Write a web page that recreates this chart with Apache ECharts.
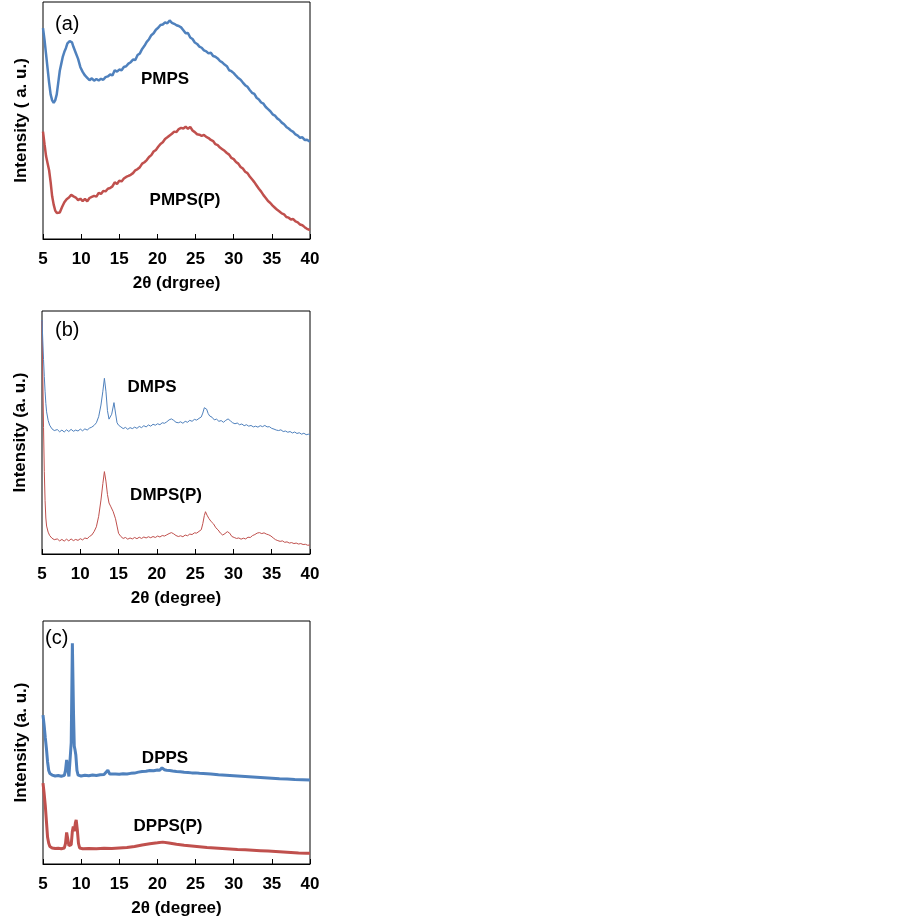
<!DOCTYPE html>
<html>
<head>
<meta charset="utf-8">
<script src="https://cdn.jsdelivr.net/npm/echarts@6/dist/echarts.min.js"></script>
<style>
body { margin: 0; background: #fff; }
#chart { width: 903px; height: 919px; }
</style>
</head>
<body>
<div id="chart"></div>
<script>
// 2theta / relative intensity (0-100 of each panel height)
var pmps = [[5,89],[5.2,84],[5.4,78],[5.6,72],[5.8,66],[6.0,61],[6.2,58.5],[6.4,57.5],[6.6,58.5],[6.8,61],[7.0,66],[7.2,71],[7.4,74],[7.6,77],[7.8,79],[8.0,80.5],[8.2,82.5],[8.5,83.5],[8.8,83],[9.0,81],[9.3,78.5],[9.6,76],[9.9,72.5],[10.2,70.5],[10.5,69],[10.8,68],[11.1,67],[11.4,67.8],[11.7,66.8],[12.0,67.5],[12.3,66.9],[12.6,67.6],[12.9,67.2],[13.2,68.3],[13.5,68.6],[13.8,69.4],[14.1,69],[14.4,71.2],[14.7,70.6],[15.0,71.5],[15.3,71.2],[15.6,72.6],[15.9,72.9],[16.2,74],[16.5,74.6],[16.8,75.7],[17.1,75.5],[17.4,77.6],[17.7,78.3],[18.0,80.2],[18.3,81.5],[18.6,83.2],[18.9,84.3],[19.2,86],[19.5,86.8],[19.8,88.3],[20.1,89.1],[20.4,90.3],[20.7,90.5],[21.0,91.4],[21.3,91],[21.6,92.2],[21.9,91.2],[22.2,90.8],[22.5,90.2],[22.8,89.9],[23.1,89.3],[23.4,88.1],[23.7,86.8],[24.0,86.9],[24.3,85],[24.6,84.4],[24.9,82.9],[25.2,82.3],[25.5,81.2],[25.8,80.7],[26.1,79.6],[26.4,79.2],[26.7,78.3],[27.0,78.6],[27.3,77.2],[27.6,76.9],[27.9,76.2],[28.2,75.1],[28.5,74.5],[28.8,73.6],[29.1,72.9],[29.4,71.2],[29.7,70.8],[30.0,70],[30.3,68.9],[30.6,67.9],[30.9,67.2],[31.2,66],[31.5,64.9],[31.8,64.2],[32.1,62.9],[32.4,61.7],[32.7,61.2],[33.0,59.6],[33.3,58.9],[33.6,57.6],[33.9,57.1],[34.2,55.7],[34.5,54.8],[34.8,53.9],[35.1,52.6],[35.4,52.1],[35.7,50.9],[36.0,50.2],[36.3,49.1],[36.6,48.4],[36.9,47.3],[37.2,46.6],[37.5,45.8],[37.8,45.2],[38.1,44.1],[38.4,43.6],[38.7,42.7],[39.0,42.9],[39.3,41.8],[39.6,41.9],[40,41]];

var pmpsP = [[5,45.3],[5.2,40],[5.4,35],[5.6,32],[5.8,29],[6.0,24],[6.2,18],[6.4,14.5],[6.6,12],[6.8,11],[7.0,11.8],[7.2,11.2],[7.5,13.5],[7.8,15.5],[8.1,16.8],[8.4,17.5],[8.7,18.6],[9.0,18],[9.3,17.5],[9.6,16.4],[9.9,17],[10.2,16],[10.5,16.9],[10.8,15.9],[11.1,17.3],[11.4,17.8],[11.7,18.2],[12.0,17.9],[12.3,19.5],[12.6,19],[12.9,20.3],[13.2,20.1],[13.5,21.2],[13.8,21.5],[14.1,22.2],[14.4,23.9],[14.7,23.2],[15.0,24.6],[15.3,24.3],[15.6,25.5],[15.9,26.2],[16.2,26.6],[16.5,27.1],[16.8,27.8],[17.1,29],[17.4,29.5],[17.7,30.3],[18.0,31.8],[18.3,32.4],[18.6,33.3],[18.9,34.6],[19.2,35.4],[19.5,36.9],[19.8,37.6],[20.1,38.9],[20.4,40.1],[20.7,40.8],[21.0,42.2],[21.3,42.9],[21.6,43.7],[21.9,44.4],[22.2,45.3],[22.5,45.1],[22.8,46.4],[23.1,46.9],[23.4,46.6],[23.7,47.4],[24.0,46.5],[24.3,47.3],[24.6,45.8],[24.9,45.1],[25.2,44.2],[25.5,44],[25.8,43.5],[26.1,43.9],[26.4,43.1],[26.7,42.6],[27.0,41.8],[27.3,41.3],[27.6,40],[27.9,39.6],[28.2,38.6],[28.5,37.9],[28.8,37.2],[29.1,36.3],[29.4,35.6],[29.7,34.2],[30.0,33.7],[30.3,32.5],[30.6,31.8],[30.9,30.4],[31.2,29.7],[31.5,28.4],[31.8,27.8],[32.1,26.4],[32.4,25.2],[32.7,24],[33.0,22.6],[33.3,21.2],[33.6,20],[33.9,18.5],[34.2,17.3],[34.5,16],[34.8,15.2],[35.1,14.1],[35.4,13.2],[35.7,12.3],[36.0,11.6],[36.3,10.8],[36.6,10.4],[36.9,9.3],[37.2,9],[37.5,8.2],[37.8,8.4],[38.1,7.4],[38.4,7],[38.7,6.1],[39.0,5.8],[39.3,5],[39.6,4.3],[40,3.8]];

var dmps = [[5,96.3],[5.1,88],[5.2,80],[5.3,73],[5.4,67],[5.5,62],[5.6,58.5],[5.8,55],[6.0,53],[6.3,51.5],[6.6,50.8],[7.0,51.2],[7.3,50.3],[7.6,51],[7.9,50.2],[8.2,51.1],[8.5,50.4],[8.8,51.3],[9.1,50.5],[9.4,51],[9.7,50.6],[10.0,51.4],[10.3,50.7],[10.6,51.5],[10.9,51],[11.2,51.8],[11.5,52.2],[11.8,52.9],[12.1,54],[12.4,56.5],[12.7,61.3],[12.95,67],[13.15,72.3],[13.35,67],[13.55,59],[13.75,55.5],[13.9,55.1],[14.1,57.5],[14.4,62.3],[14.6,58],[14.8,54],[15.0,53],[15.3,52.3],[15.6,51.6],[15.9,52.1],[16.2,51.3],[16.5,52],[16.8,51.6],[17.1,52.2],[17.4,51.7],[17.7,52.5],[18.0,52],[18.3,52.8],[18.6,52.3],[18.9,53.1],[19.2,52.6],[19.5,53.4],[19.8,53],[20.1,53.6],[20.4,53.2],[20.7,54],[21.0,53.8],[21.3,54.4],[21.6,55.2],[21.9,55.6],[22.2,55],[22.5,54.2],[22.8,54],[23.1,54.4],[23.4,53.8],[23.7,54.6],[24.0,54.2],[24.3,55],[24.6,54.6],[24.9,55.4],[25.2,55.1],[25.5,55.8],[25.8,56.4],[26.0,58],[26.2,60.2],[26.35,61],[26.5,59.6],[26.7,57.8],[26.9,56.8],[27.2,56.3],[27.5,55.2],[27.8,55.5],[28.1,54.6],[28.4,54.9],[28.7,54.2],[29.0,55],[29.3,55.6],[29.6,54.8],[29.9,54],[30.2,53.6],[30.5,53.9],[30.8,53.2],[31.1,53.5],[31.4,52.8],[31.7,53.2],[32.0,52.6],[32.3,52.9],[32.6,52.3],[32.9,52.6],[33.2,52.2],[33.5,52.8],[33.8,52.4],[34.1,52.9],[34.4,52.3],[34.7,52.4],[35.0,51.7],[35.3,51.4],[35.6,51],[35.9,50.8],[36.2,51.1],[36.5,50.4],[36.8,50.6],[37.1,50.1],[37.4,50.4],[37.7,49.8],[38.0,50.2],[38.3,49.6],[38.6,49.9],[38.9,49.3],[39.2,49.7],[39.5,49.1],[39.8,49.3],[40,49]];

var dmpsP = [[5,96],[5.1,75],[5.2,52],[5.3,34],[5.4,22],[5.5,14.8],[5.6,11.5],[5.8,9],[6.0,7.6],[6.3,6.5],[6.6,5.9],[7.0,6.2],[7.3,5.4],[7.6,6],[7.9,5.3],[8.2,6.1],[8.5,5.4],[8.8,6.2],[9.1,5.5],[9.4,6],[9.7,5.6],[10.0,6.3],[10.3,5.8],[10.6,6.6],[10.9,6.3],[11.2,7.2],[11.5,7.8],[11.8,9.2],[12.1,11.2],[12.4,15.5],[12.7,22.2],[12.95,29],[13.15,33.9],[13.35,30],[13.55,24.5],[13.75,21],[14.0,19.4],[14.3,17.4],[14.45,18],[14.6,14.5],[14.8,11.5],[15.0,8.5],[15.3,7.2],[15.6,6.4],[15.9,6.8],[16.2,6.1],[16.5,6.6],[16.8,6.2],[17.1,6.8],[17.4,6.3],[17.7,6.9],[18.0,6.4],[18.3,7],[18.6,6.6],[18.9,7.1],[19.2,6.7],[19.5,7.2],[19.8,6.8],[20.1,7.4],[20.4,7],[20.7,7.6],[21.0,7.4],[21.3,7.9],[21.6,8.4],[21.9,8.8],[22.2,8.3],[22.5,7.6],[22.8,7.2],[23.1,7.5],[23.4,7.1],[23.7,7.8],[24.0,7.5],[24.3,8.2],[24.6,8],[24.9,8.7],[25.2,8.6],[25.5,9.3],[25.8,10],[26.0,12.5],[26.2,15.8],[26.35,17.4],[26.55,16],[26.8,14.6],[27.1,13.3],[27.4,12.4],[27.7,10.8],[28.0,9.9],[28.3,8.6],[28.6,7.8],[28.9,8.4],[29.2,9.2],[29.5,8.6],[29.8,7.2],[30.1,6.8],[30.4,6.4],[30.7,6.6],[31.0,6.1],[31.3,6.5],[31.6,6.2],[31.9,6.9],[32.2,6.8],[32.5,7.6],[32.8,8],[33.1,8.6],[33.4,8.8],[33.7,8.4],[34.0,8.7],[34.3,8.2],[34.6,7.9],[34.9,7.4],[35.2,6.6],[35.5,5.9],[35.8,5.5],[36.1,5.2],[36.4,5.4],[36.7,4.8],[37.0,5],[37.3,4.5],[37.6,4.7],[37.9,4.3],[38.2,4.5],[38.5,4.1],[38.8,4.3],[39.1,3.9],[39.4,4],[39.7,3.6],[40,3.7]];

var dpps = [[5,61.3],[5.15,57],[5.3,52],[5.45,47.5],[5.6,42],[5.75,38.5],[5.9,37.2],[6.2,36.6],[6.6,36.2],[7.0,36.4],[7.4,36.1],[7.8,36.5],[7.95,38.5],[8.1,42.8],[8.25,39],[8.4,36],[8.55,36.2],[8.7,50],[8.85,90.8],[9.0,62],[9.1,48.5],[9.2,46.9],[9.3,45],[9.45,38.5],[9.6,36.6],[10.0,36.2],[10.5,36.5],[11.0,36.3],[11.5,36.6],[12.0,36.4],[12.5,36.7],[13.0,36.8],[13.25,37.5],[13.5,38.6],[13.75,37],[14.0,36.8],[14.5,37],[15.0,36.9],[15.5,37.1],[16.0,37],[16.5,37.3],[17.0,37.4],[17.5,37.8],[18.0,38.1],[18.5,38.2],[19.0,38.5],[19.5,38.4],[20.0,38.7],[20.3,38.6],[20.6,39.6],[20.9,38.8],[21.2,38.6],[21.6,38.5],[22.0,38.3],[22.5,38.1],[23.0,38],[23.5,37.8],[24.0,37.7],[24.5,37.5],[25.0,37.5],[25.5,37.3],[26.0,37.2],[27.0,37],[28.0,36.7],[29.0,36.5],[30.0,36.3],[31.0,36.1],[32.0,35.9],[33.0,35.7],[34.0,35.5],[35.0,35.3],[36.0,35.1],[37.0,35],[38.0,34.8],[39.0,34.7],[40,34.6]];

var dppsP = [[5,33.3],[5.15,29],[5.3,24],[5.45,17.5],[5.6,11],[5.75,8.5],[5.9,7.2],[6.2,6.6],[6.6,6.4],[7.0,6.5],[7.4,6.3],[7.8,6.6],[7.95,8.5],[8.1,13],[8.25,12.5],[8.4,7.5],[8.55,6.8],[8.7,8],[8.85,13.5],[8.97,15.4],[9.1,13.5],[9.25,17],[9.35,18.1],[9.5,14],[9.65,8.5],[9.8,6.6],[10.2,6.3],[11.0,6.4],[12.0,6.3],[13.0,6.5],[14.0,6.4],[15.0,6.6],[16.0,6.8],[17.0,7.2],[18.0,7.8],[19.0,8.3],[20.0,8.7],[20.7,9],[21.5,8.6],[22.5,8.1],[23.5,7.7],[24.5,7.4],[25.5,7.1],[26.5,6.8],[27.5,6.6],[28.5,6.4],[29.5,6.2],[30.5,6],[31.5,5.9],[32.5,5.7],[33.5,5.5],[34.5,5.3],[35.5,5.1],[36.5,4.9],[37.5,4.7],[38.5,4.5],[39.5,4.4],[40,4.4]];

var xTitles = ['2θ (drgree)', '2θ (degree)', '2θ (degree)'];
var yTitles = ['Intensity ( a. u.)', 'Intensity (a. u.)', 'Intensity (a. u.)'];
var panelTags = ['(a)', '(b)', '(c)'];
var seriesNames = ['PMPS', 'PMPS(P)', 'DMPS', 'DMPS(P)', 'DPPS', 'DPPS(P)'];

var BLUE = '#4f81bd', RED = '#c0504d';
var FONT = 'Liberation Sans, Arial, sans-serif';

var grids = [
	{ left: 43, top: 2, width: 267, height: 237 },
	{ left: 42, top: 311, width: 268, height: 243 },
	{ left: 43, top: 621, width: 267, height: 243 }
];

var xAxes = [], yAxes = [];
for (var i = 0; i < 3; i++) {
	grids[i].show = true;
	grids[i].borderColor = '#000';
	grids[i].borderWidth = 1;
	xAxes.push({
		gridIndex : i,
		type : 'value',
		min : 5,
		max : 40,
		interval : 5,
		axisLine : { lineStyle : { color : '#000', width : 1 } },
		axisTick : { inside : true, length : 5, lineStyle : { color : '#000' } },
		axisLabel : { color : '#000', fontWeight : 'bold', fontSize : 17, fontFamily : FONT, margin : 12 },
		splitLine : { show : false },
		name : xTitles[i],
		nameLocation : 'middle',
		nameGap : 36,
		nameTextStyle : { color : '#000', fontWeight : 'bold', fontSize : 17, fontFamily : FONT }
	});
	yAxes.push({
		gridIndex : i,
		type : 'value',
		min : 0,
		max : 100,
		axisLine : { show : false },
		axisTick : { show : false },
		axisLabel : { show : false },
		splitLine : { show : false },
		name : yTitles[i],
		nameLocation : 'middle',
		nameGap : 13,
		nameTextStyle : { color : '#000', fontWeight : 'bold', fontSize : 17, fontFamily : FONT }
	});
}

function line(name, data, idx, color, width) {
	return {
		name : name,
		type : 'line',
		xAxisIndex : idx,
		yAxisIndex : idx,
		data : data,
		showSymbol : false,
		lineStyle : { color : color, width : width },
		z : color == BLUE ? 3 : 2
	};
}

function tag(text, x, y, bold) {
	return {
		type : 'text',
		x : x,
		y : y,
		style : {
			text : text,
			fill : '#000',
			fontSize : bold ? 17 : 20,
			fontWeight : bold ? 'bold' : 'normal',
			fontFamily : FONT,
			align : bold ? 'center' : 'left',
			verticalAlign : 'middle'
		}
	};
}

var option = {
	animation : false,
	backgroundColor : '#fff',
	grid : grids,
	xAxis : xAxes,
	yAxis : yAxes,
	series : [
		line(seriesNames[0], pmps, 0, BLUE, 2.5),
		line(seriesNames[1], pmpsP, 0, RED, 2.5),
		line(seriesNames[2], dmps, 1, BLUE, 1),
		line(seriesNames[3], dmpsP, 1, RED, 1),
		line(seriesNames[4], dpps, 2, BLUE, 3),
		line(seriesNames[5], dppsP, 2, RED, 3)
	],
	graphic : [
		tag(panelTags[0], 55, 24),
		tag(panelTags[1], 55, 330),
		tag(panelTags[2], 45, 638),
		tag(seriesNames[0], 165, 79, true),
		tag(seriesNames[1], 185, 200, true),
		tag(seriesNames[2], 152, 387, true),
		tag(seriesNames[3], 166, 495, true),
		tag(seriesNames[4], 165, 758, true),
		tag(seriesNames[5], 168, 826, true)
	]
};

var myChart = echarts.init(document.getElementById('chart'));
myChart.setOption(option);
</script>
</body>
</html>
